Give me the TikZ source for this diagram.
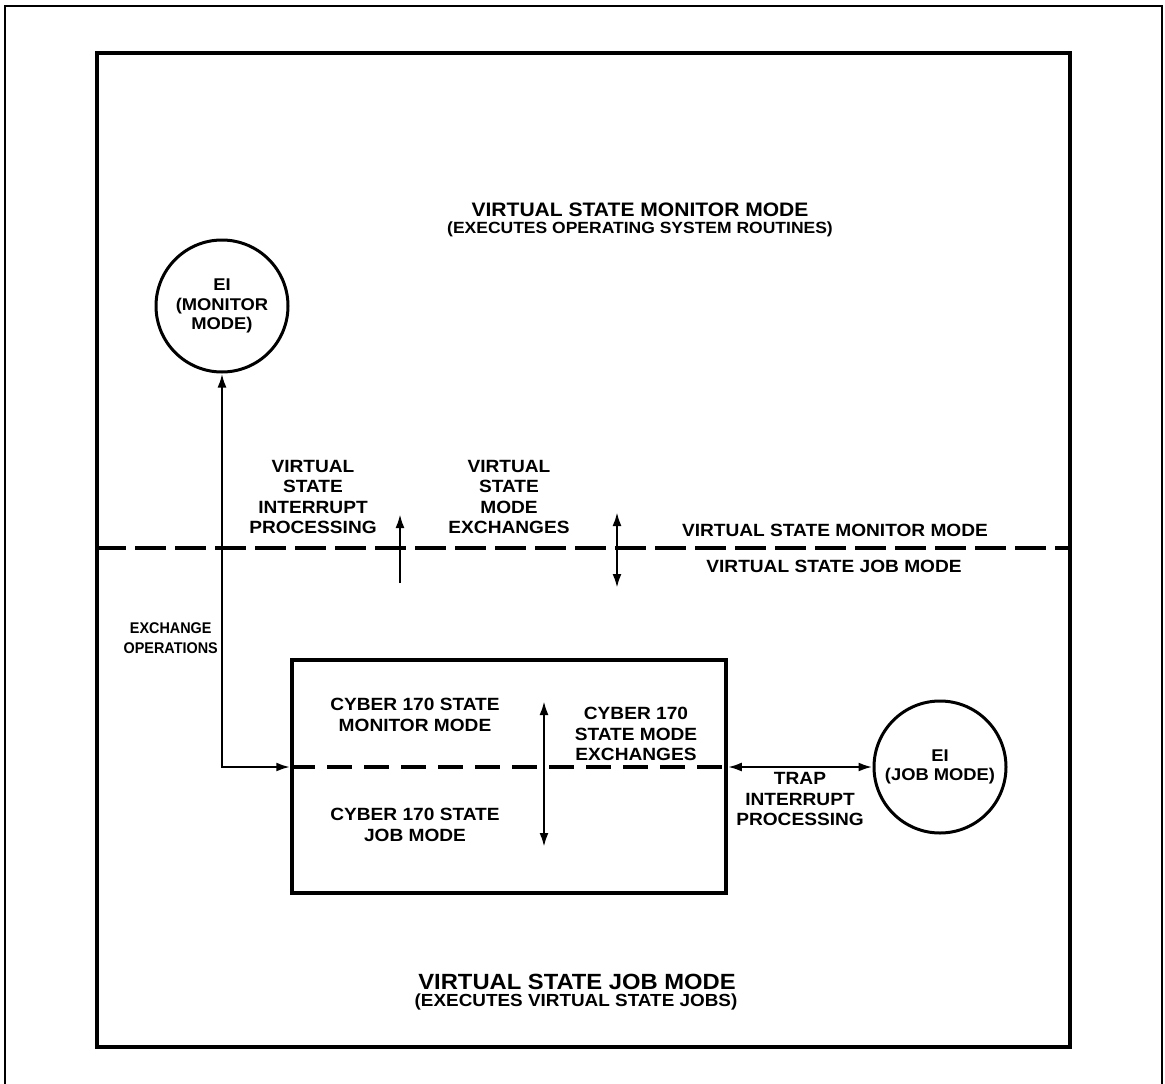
\documentclass[tikz,border=0pt]{standalone}
\usepackage{fontspec}
\setmainfont{Liberation Sans}[FakeStretch=1.08]
\usetikzlibrary{arrows.meta}
\begin{document}
\begin{tikzpicture}[x=1pt,y=-1pt,
  lbl/.style={font=\fontsize{17.7}{20.5}\selectfont\bfseries, align=center, inner sep=0pt},
  ttl/.style={font=\fontsize{19.5}{22}\selectfont\bfseries, align=center, inner sep=0pt},
  sub/.style={font=\fontsize{16.2}{18}\selectfont\bfseries, align=center, inner sep=0pt},
  state/.style={circle, draw, line width=3pt, minimum size=132pt, inner sep=0pt,
    font=\fontsize{17}{19.5}\selectfont\bfseries, align=center},
  tipx/.tip={Latex[length=14pt,width=9pt]},
  conn/.style={line width=2.5pt},
  dsh/.style={line width=3.2pt, dash pattern=on 31pt off 9pt},
  dshin/.style={line width=3.2pt, dash pattern=on 25pt off 12pt}]
\useasboundingbox (0,0) rectangle (1165,1084);
% outer thin frame (open at bottom)
\draw[line width=1.6pt] (5,1084) -- (5,6) -- (1162,6) -- (1162,1084);
% inner thick frame
\node[draw, line width=4pt, minimum width=973pt, minimum height=994pt, inner sep=0pt] (frame) at (583.5,550) {};
% titles
\node[ttl] (t1) at (640,210) {VIRTUAL STATE MONITOR MODE};
\node[sub] (t2) at (640,229) {(EXECUTES OPERATING SYSTEM ROUTINES)};
\node[ttl, font=\fontsize{22}{25}\selectfont\bfseries] (b1) at (577,982) {VIRTUAL STATE JOB MODE};
\node[sub, font=\fontsize{17.5}{20}\selectfont\bfseries] (b2) at (576,1002) {(EXECUTES VIRTUAL STATE JOBS)};
% state circles
\node[state] (mon) at (222,306) {EI\\(MONITOR\\MODE)};
\node[state] (job) at (940,767) {EI\\(JOB MODE)};
% main dashed divider
\draw[dsh] (frame.west |- 0,548) -- (frame.east |- 0,548);
\node[lbl] (vsmm) at (835,530) {VIRTUAL STATE MONITOR MODE};
\node[lbl] (vsjm) at (834,566) {VIRTUAL STATE JOB MODE};
% labels above divider
\node[lbl] (vsip) at (313,497) {VIRTUAL\\STATE\\INTERRUPT\\PROCESSING};
\node[lbl] (vsme) at (509,497) {VIRTUAL\\STATE\\MODE\\EXCHANGES};
\coordinate (a1s) at (400,583);
\coordinate (a1e) at (400,514);
\draw[conn, -{tipx}] (a1s) -- (a1e);
\coordinate (a2s) at (617,512);
\coordinate (a2e) at (617,588);
\draw[conn, {tipx}-{tipx}] (a2s) -- (a2e);
% cyber 170 box
\node[draw, line width=3.5pt, minimum width=434pt, minimum height=233pt, inner sep=0pt] (box) at (509,776.5) {};
\coordinate (bl) at (box.west |- 0,767);
\coordinate (br) at (box.east |- 0,767);
\draw[dshin] (bl) -- (br);
\node[lbl] (cmm) at (415,715) {CYBER 170 STATE\\MONITOR MODE};
\node[lbl] (cjm) at (415,825) {CYBER 170 STATE\\JOB MODE};
\node[lbl] (cme) at (636,734) {CYBER 170\\STATE MODE\\EXCHANGES};
\coordinate (a3s) at (544,701);
\coordinate (a3e) at (544,847);
\draw[conn, {tipx}-{tipx}] (a3s) -- (a3e);
% exchange operations
\draw[conn, {tipx}-{tipx}] (mon.south) |- (bl);
\node[lbl, anchor=east, font=\fontsize{15.5}{20}\selectfont\bfseries] (exo) at (218,638) {\scalebox{0.86}[1]{EXCHANGE}\\\scalebox{0.86}[1]{OPERATIONS}};
% trap
\draw[conn, {tipx}-{tipx}] (br) -- (job.west);
\node[lbl] (trap) at (800,799) {TRAP\\INTERRUPT\\PROCESSING};
\end{tikzpicture}
\end{document}
